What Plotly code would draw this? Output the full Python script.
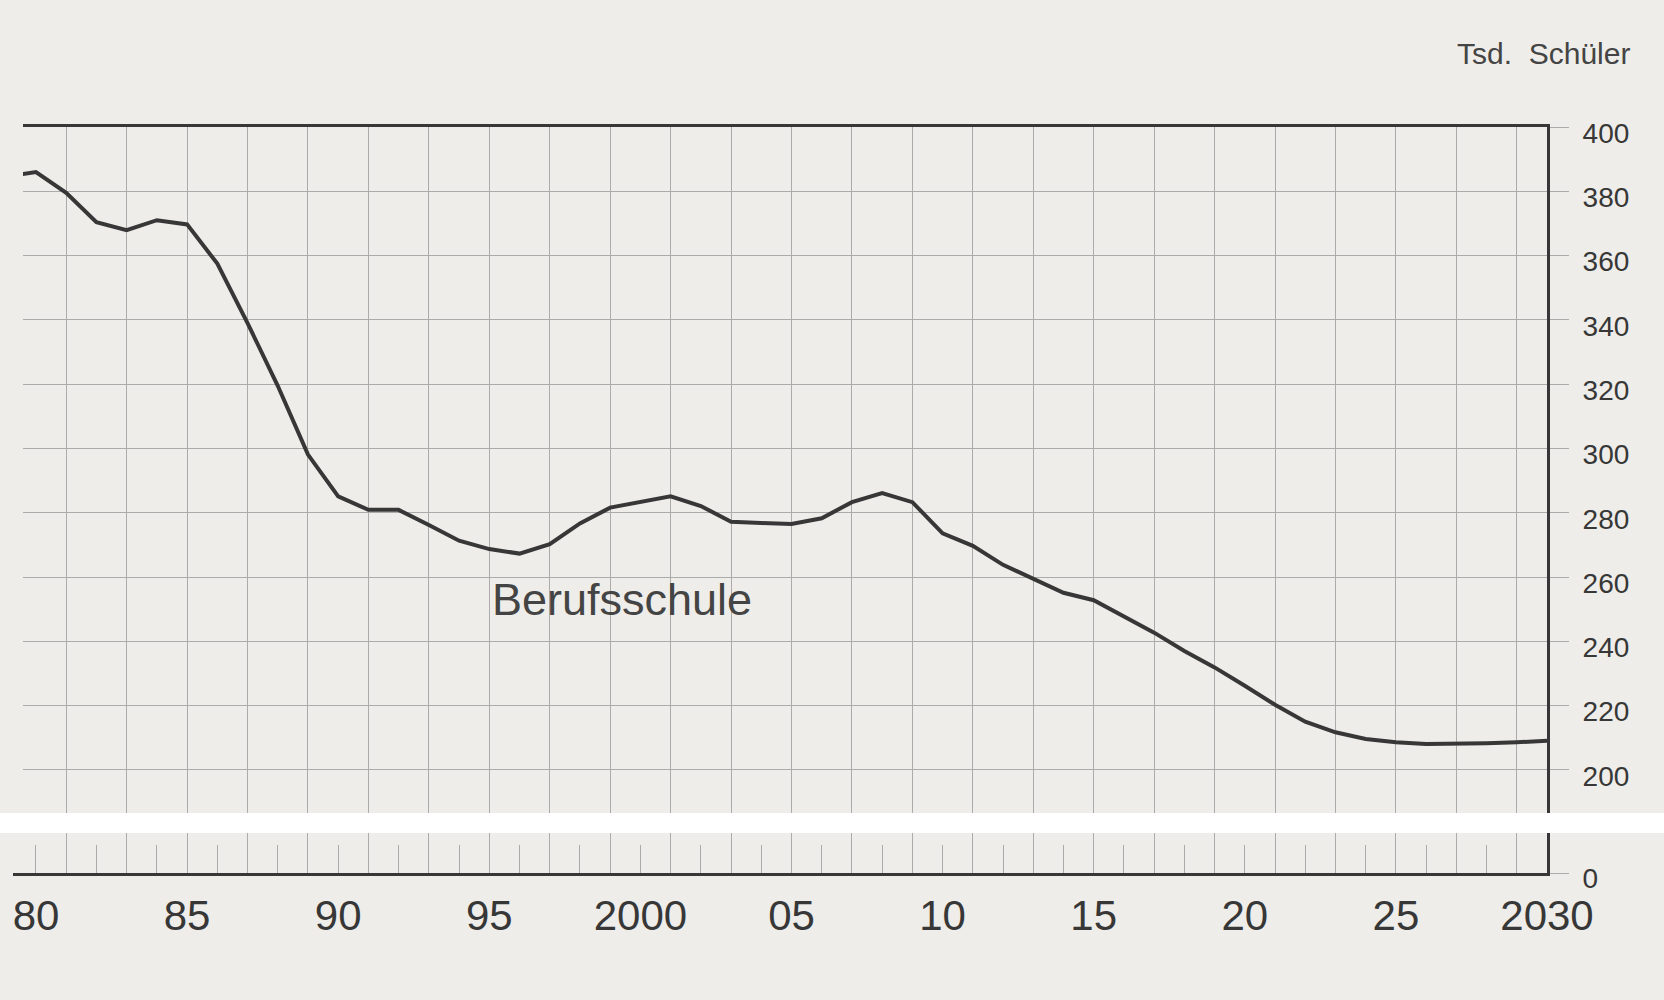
import plotly.graph_objects as go

# ---- data (Tsd. Schüler, Berufsschule) ----
years = list(range(1979, 2031))
students = [384.5, 386.0, 379.5, 370.4, 367.9, 371.0, 369.7, 357.5, 339.0, 319.5,
            298.1, 285.1, 280.9, 280.9, 276.2, 271.3, 268.7, 267.3, 270.2, 276.7,
            281.6, 283.5, 285.1, 282.1, 277.2, 276.8, 276.5, 278.3, 283.3, 286.1,
            283.3, 273.6, 269.7, 263.8, 259.3, 255.1, 252.8, 247.9, 242.7, 237.0,
            231.9, 226.2, 220.3, 215.0, 211.7, 209.6, 208.6, 208.1, 208.1, 208.3,
            208.6, 209.1]

x_label_vals = [1980, 1985, 1990, 1995, 2000, 2005, 2010, 2015, 2020, 2025, 2030]
x_label_text = ["80", "85", "90", "95", "2000", "05", "10", "15", "20", "25", "2030"]
grid_years = list(range(1981, 2030, 2))
minor_years = list(range(1980, 2030, 2))
y_upper_ticks = list(range(200, 401, 20))
y_lower_ticks = [0]

W, H = 1664, 1000
INK = "#373737"
GRID = "#ababab"
FONT = "Liberation Sans, Arial, Helvetica, sans-serif"

x_dom = [23 / W, 1547 / W]
x_range = [1979.57, 2030]

fig = go.Figure()
line = dict(color=INK, width=4)
fig.add_trace(go.Scatter(x=years, y=students, mode="lines", line=line,
                         xaxis="x", yaxis="y", hoverinfo="x+y", showlegend=False))
fig.add_trace(go.Scatter(x=years, y=students, mode="lines", line=line,
                         xaxis="x2", yaxis="y2", hoverinfo="skip", showlegend=False))
fig.add_trace(go.Scatter(x=years, y=students, mode="lines", line=line,
                         xaxis="x3", yaxis="y2", hoverinfo="skip", showlegend=False))

fig.update_layout(
    template="none",
    width=W, height=H, autosize=False,
    margin=dict(l=0, r=0, t=0, b=0, pad=0),
    paper_bgcolor="#eeede9",
    plot_bgcolor="rgba(0,0,0,0)",
    font=dict(family=FONT, color=INK),
    showlegend=False,
    # upper panel
    xaxis=dict(domain=x_dom, range=x_range, anchor="y", side="top",
               showline=True, linecolor=INK, linewidth=3,
               tickmode="array", tickvals=grid_years, showticklabels=False, ticks="",
               showgrid=True, gridcolor=GRID, gridwidth=1, zeroline=False,
               automargin=False),
    yaxis=dict(domain=[1 - 813 / H, 1 - 127 / H], range=[186.6, 400], anchor="x",
               side="right", showline=True, linecolor=INK, linewidth=3,
               tickmode="array", tickvals=y_upper_ticks,
               ticks="outside", ticklen=19, tickwidth=1, tickcolor=GRID,
               ticklabelstandoff=8, ticklabelshift=6,
               tickfont=dict(size=28, color=INK, family=FONT),
               showgrid=True, gridcolor=GRID, gridwidth=1, zeroline=False,
               automargin=False),
    # lower panel
    xaxis2=dict(domain=x_dom, range=x_range, anchor="y2", side="bottom",
                showline=True, linecolor=INK, linewidth=3,
                tickmode="array", tickvals=x_label_vals, ticktext=x_label_text,
                ticks="", ticklabelstandoff=4,
                tickfont=dict(size=42, color=INK, family=FONT),
                minor=dict(tickmode="array", tickvals=minor_years, ticks="inside",
                           ticklen=28, tickwidth=1, tickcolor=GRID, showgrid=False),
                showgrid=False, zeroline=False, automargin=False),
    xaxis3=dict(range=x_range, anchor="y2", overlaying="x2", side="bottom",
                tickmode="array", tickvals=grid_years, showticklabels=False, ticks="",
                showline=False, showgrid=True, gridcolor=GRID, gridwidth=1,
                zeroline=False, automargin=False),
    yaxis2=dict(domain=[1 - 873 / H, 1 - 833 / H], range=[0, 13], anchor="x2",
                side="right", showline=True, linecolor=INK, linewidth=3,
                tickmode="array", tickvals=y_lower_ticks,
                ticks="outside", ticklen=19, tickwidth=1, tickcolor=GRID,
                ticklabelstandoff=8, ticklabelshift=5,
                tickfont=dict(size=28, color=INK, family=FONT),
                showgrid=False, zeroline=False, automargin=False),
)

# white break band across the whole picture
fig.add_shape(type="rect", xref="paper", yref="paper", x0=0, x1=1,
              y0=1 - 833 / H, y1=1 - 813 / H, fillcolor="#ffffff",
              line=dict(width=0), layer="below")
# bottom axis line extends slightly left of the grid
fig.add_shape(type="line", xref="paper", yref="paper", x0=13 / W, x1=30 / W,
              y0=1 - 874.5 / H, y1=1 - 874.5 / H, line=dict(color=INK, width=3))

fig.add_annotation(text="Tsd.\u00a0\u00a0Schüler", xref="paper", yref="paper",
                   x=1632 / W, y=1 - 53 / H, xanchor="right", yanchor="middle",
                   showarrow=False, font=dict(size=30, color="#444444", family=FONT))
fig.add_annotation(text="Berufsschule", xref="x", yref="y",
                   x=1999.4, y=253, xanchor="center", yanchor="middle",
                   showarrow=False, font=dict(size=45, color="#444444", family=FONT))

fig.write_html("out.html",
               config={"displayModeBar": False},
               post_script="document.body.style.margin='0';document.body.style.overflow='hidden';")
